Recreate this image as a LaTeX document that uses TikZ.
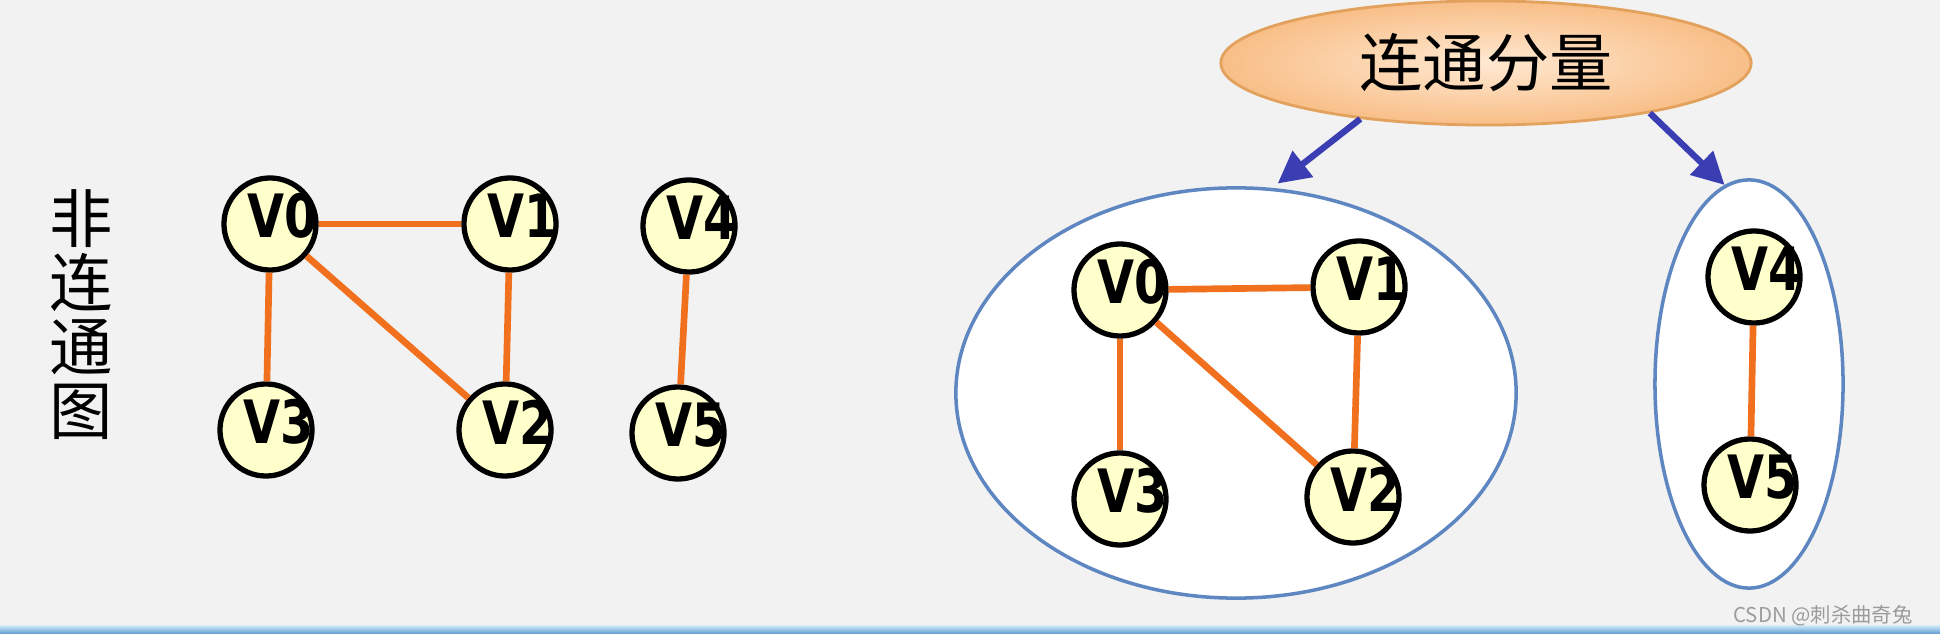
\documentclass[tikz,border=0pt]{standalone}
\usepackage{fontspec}
\usepackage{tikz}
\usetikzlibrary{arrows.meta,shapes.geometric}
\newfontfamily\cjk{Noto Sans CJK SC}
\newfontfamily\vfont[FakeStretch=0.8]{DejaVu Sans}
\definecolor{bg}{HTML}{F2F2F2}
\definecolor{nodefill}{HTML}{FFFFCC}
\definecolor{edgeor}{HTML}{F0701E}
\definecolor{ringblue}{HTML}{5E86C1}
\definecolor{arrblue}{HTML}{3B3EB3}
\definecolor{peachin}{HTML}{FFE9D2}
\definecolor{peachout}{HTML}{F8BE87}
\definecolor{peachline}{HTML}{E3A15E}
\definecolor{wm}{HTML}{9B9B9B}
\definecolor{barhi}{HTML}{D6ECF8}
\definecolor{barlo}{HTML}{5A9AD0}
\tikzset{
  vtx/.style={circle, draw=black, line width=1.5pt, fill=nodefill, minimum size=0.92cm, inner sep=0pt},
  vlbl/.style={font=\vfont\bfseries\fontsize{17pt}{19pt}\selectfont, xshift=0.13cm, yshift=0.08cm},
  edge/.style={edgeor, line width=1.9pt},
  comp/.style={ellipse, draw=ringblue, line width=1pt, fill=white, inner sep=0pt},
  arr/.style={arrblue, line width=1.8pt, -{Triangle[length=3.2mm,width=3.2mm]}}
}
\begin{document}
\begin{tikzpicture}[x=0.01cm, y=-0.01cm]
  \fill[bg] (0,0) rectangle (1940,634);
  \useasboundingbox (0,0) rectangle (1940,634);
  \shade[top color=barhi, bottom color=barlo] (0,625) rectangle (1940,634);

  % left: the graph itself
  \node[font=\cjk\fontsize{18pt}{18.2pt}\selectfont, align=center] (title) at (81,315) {非\\连\\通\\图};
  \foreach \n/\x/\y in {0/270/224, 1/510/224, 2/505/430, 3/266/430, 4/689/226, 5/678/433}
    \node[vtx, label={[vlbl]center:V\n}] (a\n) at (\x,\y) {};
  \foreach \u/\v in {0/1, 0/2, 0/3, 1/2, 4/5}
    \draw[edge] (a\u) -- (a\v);

  % right: its components
  \node[ellipse, shade, inner color=peachin, outer color=peachout, draw=peachline, line width=0.8pt,
        minimum width=5.3cm, minimum height=1.24cm, font=\cjk\fontsize{18pt}{20pt}\selectfont] (head) at (1486,63) {连通分量};
  \node[comp, minimum width=5.6cm, minimum height=4.1cm] (c1) at (1236,393) {};
  \node[comp, minimum width=1.88cm, minimum height=4.08cm] (c2) at (1749,384) {};
  \draw[arr, shorten >=0.07cm] (head.204) -- (c1.80);
  \draw[arr] (head.-17) -- (c2.97);
  \foreach \n/\x/\y in {0/1120/290, 1/1359/287, 2/1353/497, 3/1120/499, 4/1754/277, 5/1750/485}
    \node[vtx, label={[vlbl]center:V\n}] (b\n) at (\x,\y) {};
  \foreach \u/\v in {0/1, 0/2, 0/3, 1/2, 4/5}
    \draw[edge] (b\u) -- (b\v);

  \node[anchor=east, text=wm, font=\cjk\fontsize{5.8pt}{7pt}\selectfont] (mark) at (1925,616) {CSDN @刺杀曲奇兔};
\end{tikzpicture}
\end{document}
